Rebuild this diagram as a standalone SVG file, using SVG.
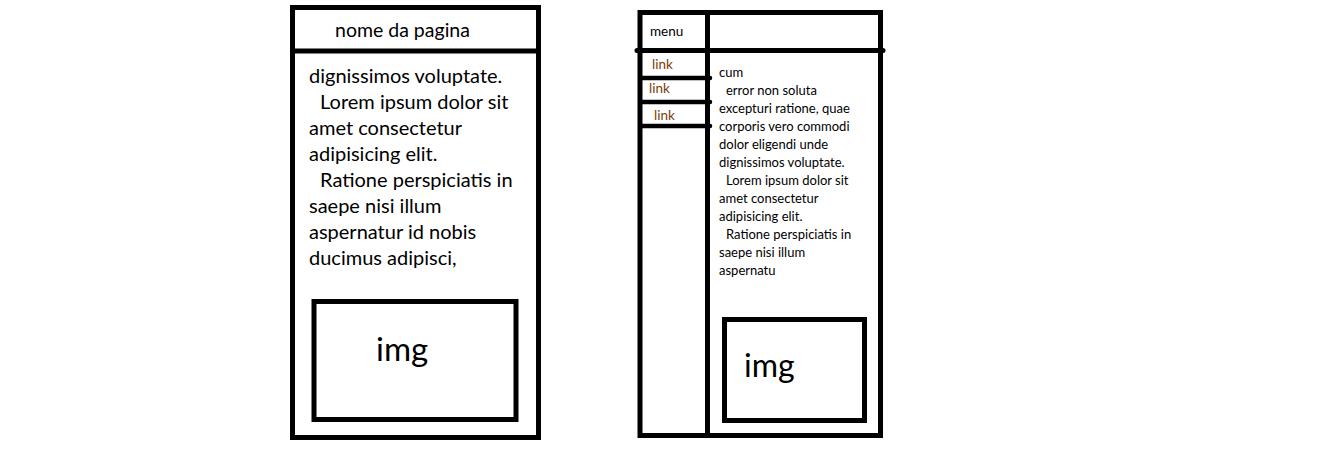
<svg xmlns="http://www.w3.org/2000/svg" width="1325" height="460" viewBox="0 0 1325 460">
<style>
.frame{fill:none;stroke:#000;stroke-width:5}
.bar{stroke:#000;stroke-width:5;stroke-linecap:round}
.lk{stroke:#000;stroke-width:4.5;stroke-linecap:round}
text{font-family:Lato,"Open Sans","Liberation Sans",sans-serif;fill:#000}
.big{font-size:20px}
.small{font-size:13px}
.link{font-size:13.5px;fill:#7a3d00}
.img{font-size:33px}
</style>
<rect width="1325" height="460" fill="#fff"/>
<g id="page-single">
<rect class="frame" x="292.5" y="7.5" width="246" height="430"/>
<line class="bar" x1="292.5" y1="51" x2="538.5" y2="51" style="stroke-linecap:butt"/>
<text x="335" y="37" style="font-size:19.5px">nome da pagina</text>
<g class="big">
<text x="309" y="83">dignissimos voluptate.</text>
<text x="320" y="109">Lorem ipsum dolor sit</text>
<text x="309" y="135">amet consectetur</text>
<text x="309" y="161">adipisicing elit.</text>
<text x="320" y="187">Ratione perspiciatis in</text>
<text x="309" y="213">saepe nisi illum</text>
<text x="309" y="239">aspernatur id nobis</text>
<text x="309" y="265">ducimus adipisci,</text>
</g>
<g id="img-left">
<rect class="frame" x="314" y="301.5" width="202" height="118"/>
<text class="img" x="376" y="361">img</text>
</g>
</g>
<g id="page-menu">
<rect class="frame" x="640" y="12.5" width="240.5" height="423"/>
<line class="bar" x1="707.5" y1="12.5" x2="707.5" y2="435.5" style="stroke-linecap:butt"/>
<line class="bar" x1="637" y1="50.5" x2="883" y2="50.5"/>
<text x="650" y="36" style="font-size:13.5px">menu</text>
<g id="links">
<line class="lk" x1="641" y1="78" x2="710" y2="78"/>
<line class="lk" x1="641" y1="102" x2="710" y2="102"/>
<line class="lk" x1="641" y1="126" x2="710" y2="126"/>
<text class="link" x="652" y="69">link</text>
<text class="link" x="649" y="93">link</text>
<text class="link" x="654" y="120">link</text>
</g>
<g class="small">
<text x="719" y="77">cum</text>
<text x="726" y="95">error non soluta</text>
<text x="719" y="113">excepturi ratione, quae</text>
<text x="719" y="131">corporis vero commodi</text>
<text x="719" y="149">dolor eligendi unde</text>
<text x="719" y="167">dignissimos voluptate.</text>
<text x="726" y="185">Lorem ipsum dolor sit</text>
<text x="719" y="203">amet consectetur</text>
<text x="719" y="221">adipisicing elit.</text>
<text x="726" y="239">Ratione perspiciatis in</text>
<text x="719" y="257">saepe nisi illum</text>
<text x="719" y="275">aspernatu</text>
</g>
<g id="img-right">
<rect class="frame" x="724.5" y="319.5" width="140" height="101"/>
<text class="img" x="744" y="377" style="font-size:32px">img</text>
</g>
</g>
</svg>
